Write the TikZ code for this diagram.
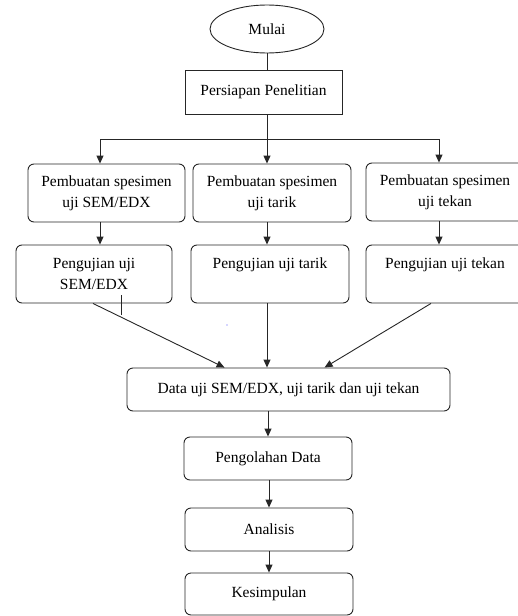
\documentclass[tikz,border=0pt]{standalone}
\usepackage{fontspec}
\setmainfont{Liberation Serif}
\usetikzlibrary{shapes.geometric,arrows.meta}
\begin{document}
\begin{tikzpicture}[x=1pt,y=-1pt,
  font=\fontsize{15.5}{21}\selectfont,
  base/.style={draw=black!85, line width=0.9pt, inner sep=0pt, align=center},
  box/.style={base, rounded corners=6pt},
  arr/.style={draw=black!85, line width=0.9pt, -{Triangle[length=8pt,width=7pt]}},
  ln/.style={draw=black!85, line width=0.9pt}]
\useasboundingbox (0,0) rectangle (518,616);

\node[base, ellipse, minimum width=114pt, minimum height=48pt] (mulai) at (267,29) {Mulai};
\node[base, minimum width=157pt, minimum height=44pt] (prep) at (263.5,92) {Persiapan Penelitian};

\node[box, minimum width=157pt, minimum height=58pt] (b1) at (106.5,193) {Pembuatan spesimen\\uji SEM/EDX};
\node[box, minimum width=158pt, minimum height=58pt] (b2) at (272,193) {Pembuatan spesimen\\uji tarik};
\node[box, minimum width=158pt, minimum height=58pt] (b3) at (445,192) {Pembuatan spesimen\\uji tekan};

\node[box, minimum width=156pt, minimum height=58pt] (c1) at (94,274) {Pengujian uji\\SEM/EDX};
\node[box, minimum width=158pt, minimum height=58pt] (c2) at (270,274) {Pengujian uji tarik\\\mbox{}};
\node[box, minimum width=158pt, minimum height=58pt] (c3) at (445,274) {Pengujian uji tekan\\\mbox{}};

\node[box, minimum width=323pt, minimum height=43pt] (data) at (288.5,389.5) {Data uji SEM/EDX, uji tarik dan uji tekan};
\node[box, minimum width=168pt, minimum height=43pt] (olah) at (268,458.5) {Pengolahan Data};
\node[box, minimum width=168pt, minimum height=43pt] (anal) at (269,529.5) {Analisis};
\node[box, minimum width=168pt, minimum height=42pt] (kes) at (269,594) {Kesimpulan};

\coordinate (br) at (267,139);
\coordinate (bl) at (100,139);
\coordinate (bt) at (439,139);

\draw[ln] (mulai.south) -- (mulai.south |- prep.north);
\draw[ln] (prep.south -| br) -- (br);
\draw[ln] (bl) -- (bt);
\draw[arr] (bl) -- (bl |- b1.north);
\draw[arr] (br) -- (br |- b2.north);
\draw[arr] (bt) -- (bt |- b3.north);

\draw[arr] (b1.south -| bl) -- (c1.north -| bl);
\draw[arr] (b2.south -| br) -- (c2.north -| br);
\draw[arr] (b3.south -| bt) -- (c3.north -| bt);

\draw[arr] ([xshift=-1pt]c1.south) -- ([xshift=98pt]data.north west);
\draw[arr] (c2.south -| br) -- (data.north -| br);
\draw[arr] ([xshift=-14pt]c3.south) -- ([xshift=198pt]data.north west);

\draw[arr] (data.south -| olah.north) -- (olah.north);
\draw[arr] (olah.south -| anal.north) -- (anal.north);
\draw[arr] (anal.south -| kes.north) -- (kes.north);

\draw[ln] (121,295) -- (121,315);
\fill[blue!70] (227,325) circle (0.7pt);
\end{tikzpicture}
\end{document}
